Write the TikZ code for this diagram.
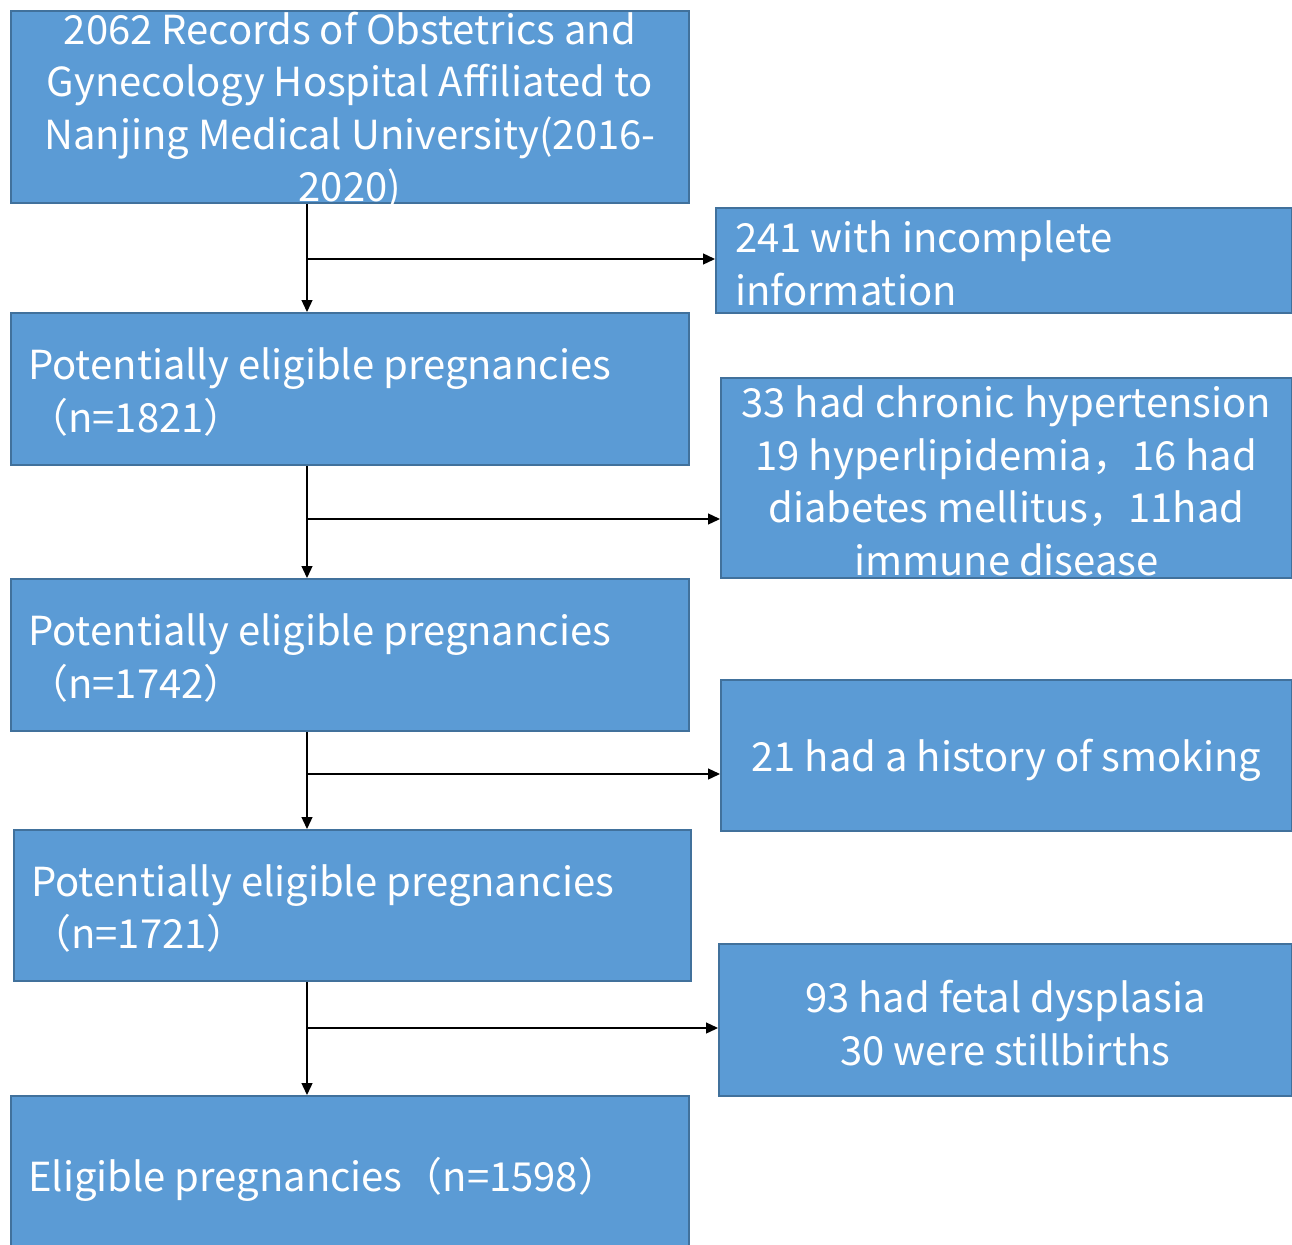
\documentclass[tikz,border=0pt]{standalone}
\usepackage{fontspec}
\setmainfont{Noto Sans CJK SC}
\usetikzlibrary{arrows.meta}
\definecolor{boxfill}{HTML}{5B9BD5}
\definecolor{boxline}{HTML}{41719C}
\tikzset{
  blk/.style={draw=boxline, fill=boxfill, line width=1.8pt, inner sep=0pt, anchor=north west},
  txt/.style={text=white, font=\fontsize{40}{52.5}\selectfont, inner sep=0pt, yshift=-3pt},
  arr/.style={draw=black, line width=1.3pt, -{Triangle[length=12pt,width=11pt]}}
}
\begin{document}
\begin{tikzpicture}[x=1pt,y=-1pt]
\useasboundingbox (0,0) rectangle (1292,1244);
% left column
\node[blk, minimum width=678pt, minimum height=192pt] (b1) at (10,10) {};
\node[blk, minimum width=678pt, minimum height=152pt] (b2) at (10,312) {};
\node[blk, minimum width=678pt, minimum height=152pt] (b3) at (10,578) {};
\node[blk, minimum width=677pt, minimum height=151pt] (b4) at (13,829) {};
\node[blk, minimum width=678pt, minimum height=160pt] (b5) at (10,1095) {};
% right column
\node[blk, minimum width=576pt, minimum height=105pt] (r1) at (715,207) {};
\node[blk, minimum width=571pt, minimum height=200pt] (r2) at (720,377) {};
\node[blk, minimum width=571pt, minimum height=151pt] (r3) at (720,679) {};
\node[blk, minimum width=573pt, minimum height=152pt] (r4) at (718,943) {};
% texts
\node[txt, align=center] (t1) at ([yshift=-1pt]b1.center) {2062 Records of Obstetrics and\\Gynecology Hospital Affiliated to\\Nanjing Medical University(2016-\\2020)};
\node[txt, align=left, anchor=west] (t2) at ([xshift=18pt]b2.west) {Potentially eligible pregnancies\\（n=1821）};
\node[txt, align=left, anchor=west] (t3) at ([xshift=18pt]b3.west) {Potentially eligible pregnancies\\（n=1742）};
\node[txt, align=left, anchor=west] (t4) at ([xshift=18pt]b4.west) {Potentially eligible pregnancies\\（n=1721）};
\node[txt, align=left, anchor=west] (t5) at ([xshift=18pt]b5.west) {Eligible pregnancies（n=1598）};
\node[txt, align=left, anchor=west] (u1) at ([xshift=20pt]r1.west) {241 with incomplete\\information};
\node[txt, align=center] (u2) at (r2.center) {33 had chronic hypertension\\19 hyperlipidemia，16 had\\diabetes mellitus，11had\\immune disease};
\node[txt, align=center] (u3) at ([yshift=-2pt]r3.center) {21 had a history of smoking};
\node[txt, align=center] (u4) at (r4.center) {93 had fetal dysplasia\\30 were stillbirths};
% connectors
\coordinate (j1) at (307,259);
\coordinate (j2) at (307,519);
\coordinate (j3) at (307,774);
\coordinate (j4) at (307,1028);
\draw[arr] (b1.south -| j1) -- (b2.north -| j1);
\draw[arr] (j1) -- (r1.west |- j1);
\draw[arr] (b2.south -| j2) -- (b3.north -| j2);
\draw[arr] (j2) -- (r2.west |- j2);
\draw[arr] (b3.south -| j3) -- (b4.north -| j3);
\draw[arr] (j3) -- (r3.west |- j3);
\draw[arr] (b4.south -| j4) -- (b5.north -| j4);
\draw[arr] (j4) -- (r4.west |- j4);
\end{tikzpicture}
\end{document}
